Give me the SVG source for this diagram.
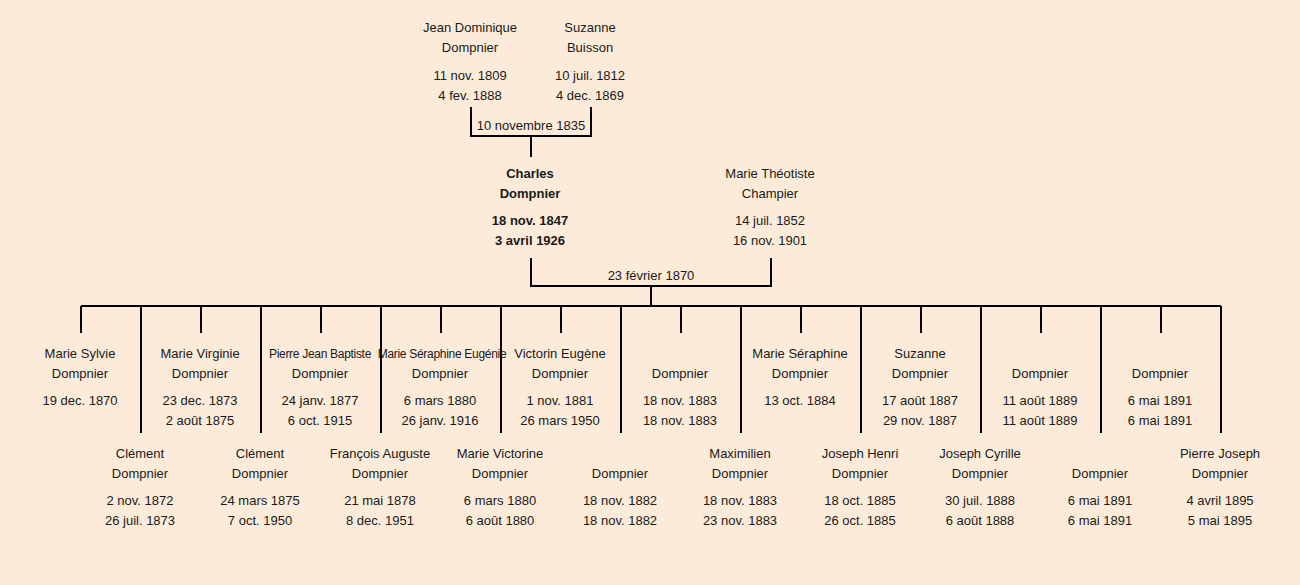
<svg xmlns="http://www.w3.org/2000/svg" width="1300" height="585" viewBox="0 0 1300 585">
<style>
text{font-family:"Liberation Sans",Arial,sans-serif;font-size:13px;fill:#1a1a1a;text-anchor:middle}
.b{font-weight:bold}
.n{font-size:12px;letter-spacing:-0.3px}
.c{stroke:#000;stroke-width:2;fill:none}
</style>
<rect width="1300" height="585" fill="#fcebd8"/>
<g id="connectors" class="c">
<path d="M471 107V136H591V107M531 136V157"/>
<path d="M531 258V286H771V258M651 286V306"/>
<path d="M81 306H1221"/>
<path d="M81 306V333M201 306V333M321 306V333M441 306V333M561 306V333M681 306V333M801 306V333M921 306V333M1041 306V333M1161 306V333"/>
<path d="M141 306V433M261 306V433M381 306V433M501 306V433M621 306V433M741 306V433M861 306V433M981 306V433M1101 306V433M1221 306V433"/>
</g>
<g id="jean-dominique"><text x="470" y="32">Jean Dominique</text><text x="470" y="52">Dompnier</text><text x="470" y="80">11 nov. 1809</text><text x="470" y="100">4 fev. 1888</text></g>
<g id="suzanne-buisson"><text x="590" y="32">Suzanne</text><text x="590" y="52">Buisson</text><text x="590" y="80">10 juil. 1812</text><text x="590" y="100">4 dec. 1869</text></g>
<g id="marriage-1835"><text x="531" y="130">10 novembre 1835</text></g>
<g id="charles"><text class="b" x="530" y="178">Charles</text><text class="b" x="530" y="198">Dompnier</text><text class="b" x="530" y="225">18 nov. 1847</text><text class="b" x="530" y="245">3 avril 1926</text></g>
<g id="marie-theotiste"><text x="770" y="178">Marie Théotiste</text><text x="770" y="198">Champier</text><text x="770" y="225">14 juil. 1852</text><text x="770" y="245">16 nov. 1901</text></g>
<g id="marriage-1870"><text x="651" y="280">23 février 1870</text></g>
<g id="c1"><text x="80" y="358">Marie Sylvie</text><text x="80" y="378">Dompnier</text><text x="80" y="405">19 dec. 1870</text></g>
<g id="c2"><text x="140" y="458">Clément</text><text x="140" y="478">Dompnier</text><text x="140" y="505">2 nov. 1872</text><text x="140" y="525">26 juil. 1873</text></g>
<g id="c3"><text x="200" y="358">Marie Virginie</text><text x="200" y="378">Dompnier</text><text x="200" y="405">23 dec. 1873</text><text x="200" y="425">2 août 1875</text></g>
<g id="c4"><text x="260" y="458">Clément</text><text x="260" y="478">Dompnier</text><text x="260" y="505">24 mars 1875</text><text x="260" y="525">7 oct. 1950</text></g>
<g id="c5"><text class="n" x="320" y="358">Pierre Jean Baptiste</text><text x="320" y="378">Dompnier</text><text x="320" y="405">24 janv. 1877</text><text x="320" y="425">6 oct. 1915</text></g>
<g id="c6"><text x="380" y="458">François Auguste</text><text x="380" y="478">Dompnier</text><text x="380" y="505">21 mai 1878</text><text x="380" y="525">8 dec. 1951</text></g>
<g id="c7"><text class="n" x="442" y="358">Marie Séraphine Eugénie</text><text x="440" y="378">Dompnier</text><text x="440" y="405">6 mars 1880</text><text x="440" y="425">26 janv. 1916</text></g>
<g id="c8"><text x="500" y="458">Marie Victorine</text><text x="500" y="478">Dompnier</text><text x="500" y="505">6 mars 1880</text><text x="500" y="525">6 août 1880</text></g>
<g id="c9"><text x="560" y="358">Victorin Eugène</text><text x="560" y="378">Dompnier</text><text x="560" y="405">1 nov. 1881</text><text x="560" y="425">26 mars 1950</text></g>
<g id="c10"><text x="620" y="478">Dompnier</text><text x="620" y="505">18 nov. 1882</text><text x="620" y="525">18 nov. 1882</text></g>
<g id="c11"><text x="680" y="378">Dompnier</text><text x="680" y="405">18 nov. 1883</text><text x="680" y="425">18 nov. 1883</text></g>
<g id="c12"><text x="740" y="458">Maximilien</text><text x="740" y="478">Dompnier</text><text x="740" y="505">18 nov. 1883</text><text x="740" y="525">23 nov. 1883</text></g>
<g id="c13"><text x="800" y="358">Marie Séraphine</text><text x="800" y="378">Dompnier</text><text x="800" y="405">13 oct. 1884</text></g>
<g id="c14"><text x="860" y="458">Joseph Henri</text><text x="860" y="478">Dompnier</text><text x="860" y="505">18 oct. 1885</text><text x="860" y="525">26 oct. 1885</text></g>
<g id="c15"><text x="920" y="358">Suzanne</text><text x="920" y="378">Dompnier</text><text x="920" y="405">17 août 1887</text><text x="920" y="425">29 nov. 1887</text></g>
<g id="c16"><text x="980" y="458">Joseph Cyrille</text><text x="980" y="478">Dompnier</text><text x="980" y="505">30 juil. 1888</text><text x="980" y="525">6 août 1888</text></g>
<g id="c17"><text x="1040" y="378">Dompnier</text><text x="1040" y="405">11 août 1889</text><text x="1040" y="425">11 août 1889</text></g>
<g id="c18"><text x="1100" y="478">Dompnier</text><text x="1100" y="505">6 mai 1891</text><text x="1100" y="525">6 mai 1891</text></g>
<g id="c19"><text x="1160" y="378">Dompnier</text><text x="1160" y="405">6 mai 1891</text><text x="1160" y="425">6 mai 1891</text></g>
<g id="c20"><text x="1220" y="458">Pierre Joseph</text><text x="1220" y="478">Dompnier</text><text x="1220" y="505">4 avril 1895</text><text x="1220" y="525">5 mai 1895</text></g>
</svg>
